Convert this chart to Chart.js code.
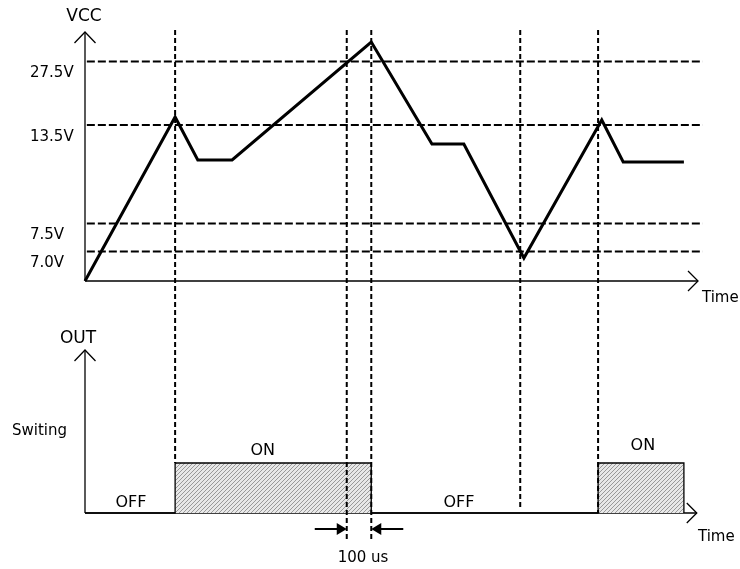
<!DOCTYPE html>
<html>
<head>
<meta charset="utf-8">
<script src="https://cdn.jsdelivr.net/npm/chart.js@4.4.0/dist/chart.umd.min.js"></script>
<style>
html, body { margin: 0; padding: 0; background: #fff; }
canvas { display: block; }
</style>
</head>
<body>
<canvas id="grafico" width="740" height="569"></canvas>
<script>
// tiempo en unidades arbitrarias (0 .. 100 = largo del eje Time)
const vccTimes  = [0, 14.7, 18.4, 24.0, 46.7, 56.6, 61.8, 71.6, 84.3, 87.8, 97.7];
// nivel esquematico de VCC (0 .. 100 = alto del eje VCC)
const vccLevels = [0, 65.6, 48.4, 48.4, 95.6, 54.8, 54.8, 9.2, 64.4, 47.6, 47.6];

const thresholdLabels = ['27.5V', '13.5V', '7.5V', '7.0V'];
const thresholdLevels = [87.8, 62.4, 23.0, 11.8];

// lineas verticales de eventos (fin inferior en unidades de OUT)
const eventTimes = [14.7, 42.7, 46.7, 71.0, 83.7];
const eventEnds  = [1, -0.56, -0.56, 0.08, 0];

// salida OUT: 0 = OFF, 1 = ON
const outTimes  = [0, 14.7, 14.7, 46.7, 46.7, 83.7, 83.7, 97.7, 97.7];
const outStates = [0, 0, 1, 1, 0, 0, 1, 1, 0];

const ctx = document.getElementById('grafico').getContext('2d');

function crearTrama() {
    const c = document.createElement('canvas');
    c.width = 4;
    c.height = 4;
    const g = c.getContext('2d');
    g.fillStyle = '#e8e8e8';
    g.fillRect(0, 0, 4, 4);
    g.strokeStyle = '#999';
    g.lineWidth = 1;
    g.beginPath();
    g.moveTo(0, 4); g.lineTo(4, 0);
    g.moveTo(-1, 1); g.lineTo(1, -1);
    g.moveTo(3, 5); g.lineTo(5, 3);
    g.stroke();
    return ctx.createPattern(c, 'repeat');
}

function linea(puntos, eje, extra) {
    return Object.assign({
        data: puntos,
        yAxisID: eje,
        showLine: true,
        pointRadius: 0,
        borderColor: '#000',
        borderWidth: 1.3,
        clip: false,
        fill: false
    }, extra || {});
}

const datasets = [];

datasets.push(linea(vccTimes.map((t, i) => ({ x: t, y: vccLevels[i] })), 'y',
    { label: 'VCC', borderWidth: 3, borderJoinStyle: 'miter' }));

thresholdLevels.forEach((v, i) => {
    datasets.push(linea([{ x: 0.3, y: v }, { x: 100.8, y: v }], 'y',
        { label: thresholdLabels[i], borderWidth: 2, borderDash: [8, 3] }));
});

eventTimes.forEach((t, i) => {
    datasets.push(linea([{ x: t, y: 9.66 }, { x: t, y: eventEnds[i] }], 'y2',
        { borderWidth: 2, borderDash: [5, 3] }));
});

datasets.push(linea(outTimes.map((t, i) => ({ x: t, y: outStates[i] })), 'y2',
    { label: 'OUT', fill: 'origin', backgroundColor: crearTrama(), borderWidth: 1.3 }));

// ejes
datasets.push(linea([{ x: 0, y: 0 }, { x: 0, y: 99.6 }], 'y'));
datasets.push(linea([{ x: 0, y: 0 }, { x: 100, y: 0 }], 'y'));
datasets.push(linea([{ x: 0, y: 0 }, { x: 0, y: 3.26 }], 'y2'));
datasets.push(linea([{ x: 0, y: 0 }, { x: 99.8, y: 0 }], 'y2'));

const anotaciones = {
    id: 'anotaciones',
    afterDatasetsDraw(chart) {
        const c = chart.ctx;
        const { x, y, y2 } = chart.scales;
        c.save();
        c.strokeStyle = '#000';
        c.fillStyle = '#000';
        c.lineWidth = 1.3;

        const flecha = (px, py, dir) => {
            c.beginPath();
            if (dir === 'up') {
                c.moveTo(px - 10.5, py + 11); c.lineTo(px, py); c.lineTo(px + 10.5, py + 11);
            } else {
                c.moveTo(px - 10, py - 10); c.lineTo(px, py); c.lineTo(px - 10, py + 10);
            }
            c.stroke();
        };
        const x0 = x.getPixelForValue(0);
        flecha(x0, y.getPixelForValue(99.6), 'up');
        flecha(x.getPixelForValue(100), y.getPixelForValue(0), 'right');
        flecha(x0, y2.getPixelForValue(3.26), 'up');
        flecha(x.getPixelForValue(99.8), y2.getPixelForValue(0), 'right');

        // cota de 100 us
        const ay = y2.getPixelForValue(-0.32);
        const xa = x.getPixelForValue(eventTimes[1]);
        const xb = x.getPixelForValue(eventTimes[2]);
        c.lineWidth = 2;
        c.beginPath();
        c.moveTo(xa - 32, ay); c.lineTo(xa - 8, ay);
        c.moveTo(xb + 32, ay); c.lineTo(xb + 8, ay);
        c.stroke();
        c.beginPath();
        c.moveTo(xa, ay); c.lineTo(xa - 10, ay - 6); c.lineTo(xa - 10, ay + 6); c.closePath();
        c.moveTo(xb, ay); c.lineTo(xb + 10, ay - 6); c.lineTo(xb + 10, ay + 6); c.closePath();
        c.fill();

        // textos
        c.textBaseline = 'middle';
        c.textAlign = 'center';
        c.font = '17px "DejaVu Sans"';
        c.fillText('VCC', x0 - 1, y.getPixelForValue(99.6) - 15);
        c.fillText('OUT', x0 - 7, y2.getPixelForValue(3.26) - 11);
        c.font = '15px "DejaVu Sans"';
        c.fillText('100 us', (xa + xb) / 2 + 4, y2.getPixelForValue(-0.9));
        c.font = '16px "DejaVu Sans"';
        c.fillText('OFF', x.getPixelForValue(7.5), y2.getPixelForValue(0.2));
        c.fillText('ON', x.getPixelForValue(29.0), y2.getPixelForValue(1.24));
        c.fillText('OFF', x.getPixelForValue(61.0), y2.getPixelForValue(0.2));
        c.fillText('ON', x.getPixelForValue(91.0), y2.getPixelForValue(1.34));

        c.font = '15px "DejaVu Sans"';
        c.textAlign = 'left';
        c.fillText('Switing', 12, y2.getPixelForValue(1.64));
        c.fillText('Time', x.getPixelForValue(100) + 4, y.getPixelForValue(0) + 17);
        c.fillText('Time', x.getPixelForValue(100), y2.getPixelForValue(0) + 24);
        thresholdLevels.forEach((v, i) => {
            c.fillText(thresholdLabels[i], x0 - 55, y.getPixelForValue(v) + 12);
        });
        c.restore();
    }
};

new Chart(ctx, {
    type: 'scatter',
    data: { datasets: datasets },
    options: {
        responsive: false,
        animation: false,
        layout: { padding: { left: 85, right: 42, top: 31, bottom: 24 } },
        scales: {
            x: { type: 'linear', min: 0, max: 100, display: false },
            y: { type: 'linear', min: -105.6, max: 100, display: false },
            y2: { type: 'linear', min: -0.64, max: 9.64, display: false }
        },
        plugins: {
            legend: { display: false },
            tooltip: { enabled: false }
        }
    },
    plugins: [anotaciones]
});
</script>
</body>
</html>
